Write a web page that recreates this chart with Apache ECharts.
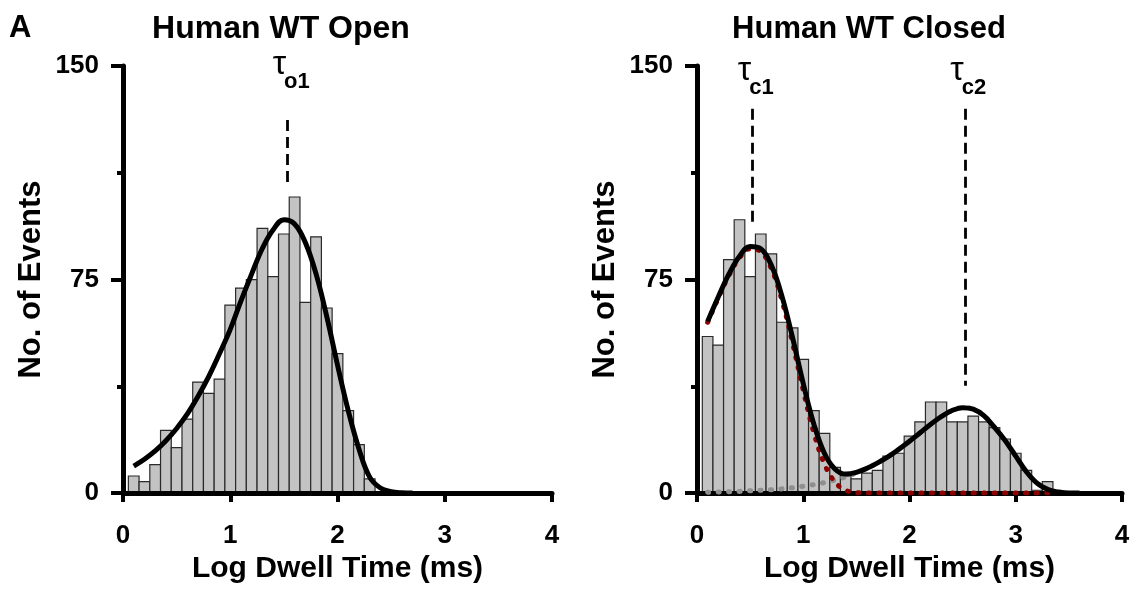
<!DOCTYPE html>
<html>
<head>
<meta charset="utf-8">
<script src="https://cdn.jsdelivr.net/npm/echarts@6/dist/echarts.min.js"></script>
<style>
  html, body { margin: 0; background: #fff; }
  #chart { width: 1137px; height: 589px; }
</style>
</head>
<body>
<div id="chart"></div>
<script>
// bin width of the log-binned histograms (log units)
const binWidth = 0.1

// Human WT Open
const openBins = [0.1, 0.2, 0.3, 0.4, 0.5, 0.6, 0.7, 0.8, 0.9, 1.0, 1.1, 1.2, 1.3, 1.4, 1.5, 1.6, 1.7, 1.8, 1.9, 2.0, 2.1, 2.2, 2.3]
const openCounts = [6, 4, 10, 22, 16, 26, 39, 35, 40, 66, 72, 75, 93, 76, 91, 104, 67, 90, 65, 49, 29, 17, 5]
const openFitX = [0.1, 0.2, 0.3, 0.4, 0.5, 0.6, 0.7, 0.8, 0.9, 1.0, 1.1, 1.2, 1.3, 1.4, 1.5, 1.6, 1.7, 1.8, 1.9, 2.0, 2.1, 2.2, 2.3, 2.4, 2.5, 2.6, 2.7]
const openFit = [9.5, 11.9, 14.8, 18.4, 22.7, 27.8, 34, 41, 49, 57.5, 67.5, 77, 86, 92.5, 96, 94.5, 88, 77, 62, 45, 29, 15.5, 5.6, 1.8, 0.5, 0.1, 0]
const openTau = [1.53]
const openTauNames = ['o1']

// Human WT Closed
const closedBins = [0.1, 0.2, 0.3, 0.4, 0.5, 0.6, 0.7, 0.8, 0.9, 1.0, 1.1, 1.2, 1.3, 1.4, 1.5, 1.6, 1.7, 1.8, 1.9, 2.0, 2.1, 2.2, 2.3, 2.4, 2.5, 2.6, 2.7, 2.8, 2.9, 3.0, 3.1, 3.2, 3.3]
const closedCounts = [55, 52, 82, 96, 76, 91, 84, 60, 58, 47, 29, 21, 9, 6, 5, 7, 8, 13, 14, 20, 25, 32, 32, 25, 25, 27, 25, 23, 19, 14, 8, 1, 4]
const closedFitX = [0.1, 0.2, 0.3, 0.4, 0.5, 0.6, 0.7, 0.8, 0.9, 1.0, 1.1, 1.2, 1.3, 1.4, 1.5, 1.6, 1.7, 1.8, 1.9, 2.0, 2.1, 2.2, 2.3, 2.4, 2.5, 2.6, 2.7, 2.8, 2.9, 3.0, 3.1, 3.2, 3.3, 3.4, 3.5, 3.6]
const closedFit = [60.3, 68.9, 76.9, 83.2, 86.6, 85.8, 80, 69.1, 54.5, 38.5, 24.2, 13.9, 8.4, 6.7, 7.3, 8.7, 10.6, 12.8, 15.4, 18.2, 21.2, 24.2, 26.9, 29, 30, 29.5, 27.2, 23.1, 18.5, 13, 7.5, 3.5, 1.3, 0.4, 0, 0]
// components, sampled at closedBins
const closedFast = [60, 68.5, 76.4, 82.6, 85.8, 84.8, 78.8, 67.6, 52.6, 36.1, 21.2, 10.2, 3.8, 1, 0.2, 0, 0, 0, 0, 0, 0, 0, 0, 0, 0, 0, 0, 0, 0, 0, 0, 0, 0]
const closedSlow = [0.3, 0.4, 0.5, 0.6, 0.8, 1, 1.2, 1.5, 1.9, 2.4, 3, 3.7, 4.6, 5.7, 7.1, 8.7, 10.6, 12.8, 15.4, 18.2, 21.2, 24.2, 26.9, 29, 30, 29.5, 27.2, 23.1, 18.5, 13, 7.5, 3.5, 1.3]
const closedTau = [0.52, 2.52]
const closedTauNames = ['c1', 'c2']

const yTicks = [0, 75, 150]
const xTicks = [0, 1, 2, 3, 4]

const FONT = '"Liberation Sans", Arial, sans-serif'

const zip = (xs, ys) => xs.map((x, i) => [x, ys[i]])

function barRect(params, api) {
  const x = api.value(0)
  const y = api.value(1)
  const p0 = api.coord([x - binWidth / 2, y])
  const p1 = api.coord([x + binWidth / 2, 0])
  return {
    type: 'rect',
    shape: { x: p0[0], y: p0[1], width: p1[0] - p0[0], height: p1[1] - p0[1] },
    style: { fill: '#c3c3c3', stroke: '#2a2a2a', lineWidth: 1.2 }
  }
}

function xAxisFor(gridIndex) {
  return {
    gridIndex,
    type: 'value',
    min: xTicks[0],
    max: xTicks[xTicks.length - 1],
    interval: 1,
    z: 2,
    axisLine: { show: true, onZero: false, lineStyle: { color: '#000', width: 5 } },
    axisTick: { show: true, length: 9, lineStyle: { color: '#000', width: 4 } },
    splitLine: { show: false },
    axisLabel: { color: '#000', fontSize: 26, fontWeight: 'bold', fontFamily: FONT, margin: 30, showMinLabel: true, showMaxLabel: true },
    name: 'Log Dwell Time (ms)',
    nameLocation: 'middle',
    nameGap: 60,
    nameTextStyle: { color: '#000', fontSize: 30, fontWeight: 'bold', fontFamily: FONT }
  }
}

function yAxisFor(gridIndex) {
  return {
    gridIndex,
    type: 'value',
    min: yTicks[0],
    max: yTicks[yTicks.length - 1],
    interval: 75,
    z: 2,
    axisLine: { show: true, lineStyle: { color: '#000', width: 5 } },
    axisTick: { show: true, length: 12, lineStyle: { color: '#000', width: 4 } },
    minorTick: { show: true, splitNumber: 2, length: 6, lineStyle: { color: '#000', width: 4 } },
    splitLine: { show: false },
    minorSplitLine: { show: false },
    axisLabel: { color: '#000', fontSize: 26, fontWeight: 'bold', fontFamily: FONT, margin: 24, showMinLabel: true, showMaxLabel: true },
    name: 'No. of Events',
    nameLocation: 'middle',
    nameGap: 76,
    nameTextStyle: { color: '#000', fontSize: 31, fontWeight: 'bold', fontFamily: FONT }
  }
}

// dashed tau markers, y range given in data units
function tauLines(taus, yFrom, yTo) {
  return {
    silent: true,
    animation: false,
    symbol: ['none', 'none'],
    label: { show: false },
    lineStyle: { color: '#000', width: 2.8, type: [11, 6] },
    data: taus.map((t, i) => [{ coord: [t, yFrom[i]] }, { coord: [t, yTo[i]] }])
  }
}

const chart = echarts.init(document.getElementById('chart'))

chart.setOption({
  animation: false,
  backgroundColor: '#fff',
  grid: [
    { left: 123, top: 66, width: 429, height: 430 },
    { left: 697, top: 66, width: 425, height: 430 }
  ],
  xAxis: [xAxisFor(0), xAxisFor(1)],
  yAxis: [yAxisFor(0), yAxisFor(1)],
  series: [
    {
      type: 'custom', xAxisIndex: 0, yAxisIndex: 0, z: 1, silent: true,
      data: zip(openBins, openCounts), renderItem: barRect
    },
    {
      type: 'line', xAxisIndex: 0, yAxisIndex: 0, z: 3, silent: true,
      data: zip(openFitX, openFit), showSymbol: false, smooth: 0.4,
      lineStyle: { color: '#000', width: 5 },
      markLine: tauLines(openTau, [131], [108])
    },
    {
      type: 'custom', xAxisIndex: 1, yAxisIndex: 1, z: 1, silent: true,
      data: zip(closedBins, closedCounts), renderItem: barRect
    },
    {
      type: 'line', xAxisIndex: 1, yAxisIndex: 1, z: 3, silent: true,
      data: zip(closedBins, closedSlow), showSymbol: false, smooth: 0.4,
      lineStyle: { color: '#8f8f8f', width: 5, type: [1, 9.5], cap: 'round' }
    },
    {
      type: 'line', xAxisIndex: 1, yAxisIndex: 1, z: 3, silent: true,
      data: zip(closedBins, closedFast), showSymbol: false, smooth: 0.4,
      lineStyle: { color: '#8b0000', width: 5, type: [1, 9.5], cap: 'round' }
    },
    {
      type: 'line', xAxisIndex: 1, yAxisIndex: 1, z: 4, silent: true,
      data: zip(closedFitX, closedFit), showSymbol: false, smooth: 0.4,
      lineStyle: { color: '#000', width: 5 },
      markLine: tauLines(closedTau, [135, 135], [94.5, 37.7])
    }
  ]
})

// titles, panel letter and tau labels
function tauLabel(gridIndex, tau, sub, y) {
  const px = chart.convertToPixel({ gridIndex }, [tau, 0])[0]
  return [
    {
      type: 'text', z: 10,
      style: { text: 'τ', x: px - 1, y, fill: '#000', font: '34px ' + FONT, align: 'right', verticalAlign: 'middle' }
    },
    {
      type: 'text', z: 10,
      style: { text: sub, x: px - 3, y: y + 17, fill: '#000', font: 'bold 22px ' + FONT, align: 'left', verticalAlign: 'middle' }
    }
  ]
}

const graphics = [
  { type: 'text', style: { text: 'A', x: 9, y: 28, fill: '#000', font: 'bold 31px ' + FONT, align: 'left', verticalAlign: 'middle' } },
  { type: 'text', style: { text: 'Human WT Open', x: 281, y: 29, fill: '#000', font: 'bold 32px ' + FONT, align: 'center', verticalAlign: 'middle' } },
  { type: 'text', style: { text: 'Human WT Closed', x: 869, y: 29, fill: '#000', font: 'bold 31px ' + FONT, align: 'center', verticalAlign: 'middle' } }
]
openTau.forEach((t, i) => graphics.push(...tauLabel(0, t, openTauNames[i], 65)))
closedTau.forEach((t, i) => graphics.push(...tauLabel(1, t, closedTauNames[i], 71)))

chart.setOption({ graphic: graphics })
</script>
</body>
</html>
